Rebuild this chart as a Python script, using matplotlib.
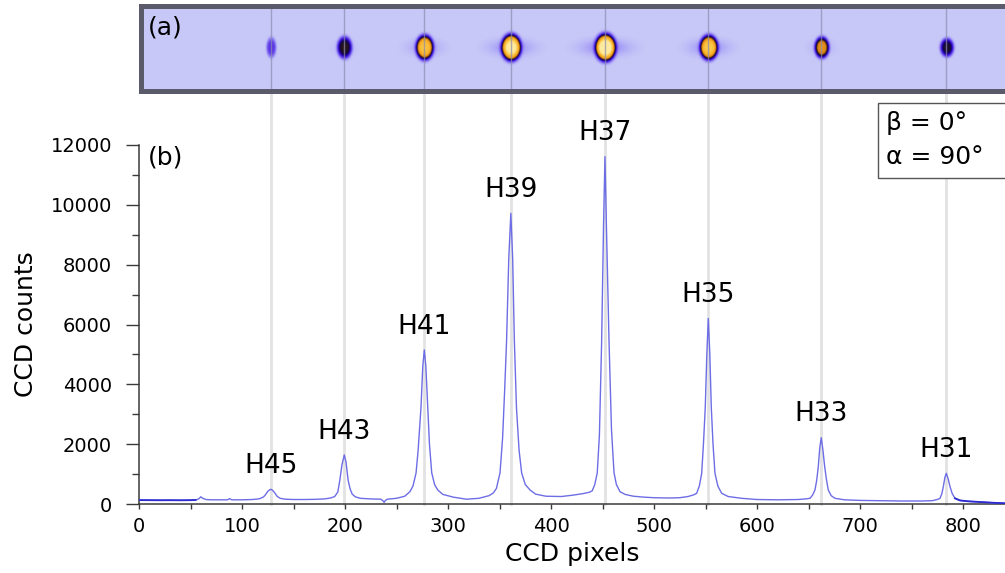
import numpy as np
import matplotlib
matplotlib.use("Agg")
import matplotlib.pyplot as plt
from matplotlib.colors import LinearSegmentedColormap
from matplotlib.patches import Rectangle

# ---------------- data ----------------
pixels = [0, 10, 20, 30, 40, 50, 55, 58, 60, 62, 65, 70, 80, 86, 88, 90, 100, 110, 116,
          118, 121, 123, 125, 127, 128.2, 130, 132, 134, 137, 142, 150,
          160, 170, 180, 186, 190, 193, 195, 197, 199.3, 201, 203, 205, 207, 210, 215,
          225, 235, 237, 238, 239, 241, 250, 258, 263, 266, 269, 271, 273.8, 275.5, 277,
          278.5, 280.3, 282, 284.2, 287, 290, 295, 305, 318, 330, 340, 344, 347, 350.5,
          353, 355, 356.9, 359, 361, 362.8, 364.4, 366.5, 369, 371.5, 375, 379.6, 385,
          395, 410, 420, 430, 437, 440, 442.5, 444.9, 447, 449.2, 451, 452.4, 453.8,
          456.3, 458.7, 461.2, 463.5, 467, 472, 480, 490, 500, 515, 525, 533, 538,
          541.4, 544, 546.3, 548, 549.8, 551.3, 552.7, 554.2, 555.6, 557.3, 559.2, 562,
          565.7, 572, 585, 600, 620, 640, 647, 651.5, 654, 656.3, 658, 659.5, 661,
          662.4, 664, 665.7, 667.5, 669.2, 672, 675.7, 685, 700, 718, 740, 760, 770,
          775, 777.7, 779.5, 780.9, 782.5, 783.8, 785.5, 787.4, 789.5, 792.2, 797, 805,
          815, 830, 841]
counts = [130, 128, 125, 127, 124, 128, 135, 170, 240, 190, 150, 140, 138, 140, 180, 140, 140, 150, 170,
          190, 240, 320, 420, 480, 490, 450, 360, 260, 190, 160, 150,
          150, 155, 170, 200, 250, 400, 800, 1300, 1640, 1400, 800, 500, 330, 240, 190,
          170, 160, 100, 55, 110, 160, 190, 260, 410, 600, 1040, 1800, 3240, 4600, 5150,
          4600, 3240, 2000, 1040, 650, 470, 320, 230, 160, 190, 280, 370, 520, 1040,
          2200, 3800, 5480, 8200, 9715, 8200, 5480, 3200, 1800, 1040, 650, 470, 330,
          260, 250, 290, 340, 390, 440, 650, 1040, 2300, 5480, 9300, 11610, 9300,
          5480, 2500, 1040, 650, 410, 320, 260, 230, 210, 200, 210, 250, 300,
          357, 600, 1025, 2000, 3250, 5000, 6200, 5000, 3250, 2000, 1025, 600,
          357, 250, 190, 150, 140, 150, 170, 190, 300, 470, 800, 1250, 1900,
          2216, 1800, 1250, 800, 470, 280, 190, 140, 120, 110, 100, 100, 110,
          150, 190, 350, 580, 900, 1025, 850, 580, 350, 190, 120, 90,
          70, 40, 25]

harmonics = ["H45", "H43", "H41", "H39", "H37", "H35", "H33", "H31"]
peak_pixels = [128.2, 199.3, 277, 361, 452.4, 552.7, 662.4, 783.8]
peak_counts = [490, 1640, 5150, 9715, 11610, 6200, 2216, 1025]

# CCD image spots (panel a): relative brightness and sizes
spot_amp = [0.20, 0.45, 0.80, 0.95, 1.00, 0.82, 0.62, 0.43]
spot_wx = [4.6, 6.8, 8.0, 9.0, 9.4, 8.2, 6.6, 6.2]
spot_wy = [0.115, 0.125, 0.14, 0.15, 0.155, 0.14, 0.12, 0.105]
halo_amp = [0.0, 0.02, 0.05, 0.07, 0.08, 0.07, 0.03, 0.01]
halo_wx = [10, 12, 16, 20, 22, 18, 12, 10]

# ---------------- figure ----------------
W, H = 1005, 573
fig = plt.figure(figsize=(W / 100, H / 100), dpi=100)

def px2data(p):
    return (p - 139) / 1.03

ax = fig.add_axes([139 / W, (H - 504) / H, (W - 139) / W, 359 / H])
ax.set_xlim(0, px2data(W))
ax.set_ylim(0, 12000)

x = np.array(pixels, dtype=float)
y = np.array(counts, dtype=float)

# guide lines
for p in peak_pixels:
    ax.axvline(p, ymin=0, ymax=(504 - 90) / 359, color="#e2e2e2", lw=2.0,
               clip_on=False, zorder=0)

ax.plot(x, y, color="#6d6de6", lw=1.0, zorder=3)
m1 = x <= 55
m2 = x >= 790
ax.plot(x[m1], y[m1], color="#2b2bd0", lw=1.3, zorder=4)
ax.plot(x[m2], y[m2], color="#2b2bd0", lw=1.3, zorder=4)

for name, p, c in zip(harmonics, peak_pixels, peak_counts):
    ax.annotate(name, (p, c), xytext=(0, 7.5), textcoords="offset points",
                ha="center", va="bottom", fontsize=19, annotation_clip=False)

ax.spines["top"].set_visible(False)
ax.spines["right"].set_visible(False)
for s in ("left", "bottom"):
    ax.spines[s].set_color("#3a3a3a")
    ax.spines[s].set_linewidth(1.1)

ax.set_xticks(np.arange(0, 801, 100))
ax.set_xticks(np.arange(50, 841, 100), minor=True)
ax.set_yticks(np.arange(0, 12001, 2000))
ax.set_yticks(np.arange(1000, 12000, 2000), minor=True)
ax.tick_params(axis="x", which="both", direction="out", length=3.6, width=1.0,
               color="#3a3a3a", labelsize=14, pad=6)
ax.tick_params(axis="y", which="major", direction="out", length=9.4, width=1.0,
               color="#3a3a3a", labelsize=14, pad=10)
ax.tick_params(axis="y", which="minor", direction="out", length=5, width=1.0,
               color="#3a3a3a")
ax.set_xlabel("CCD pixels", fontsize=18, labelpad=4)
ax.set_ylabel("CCD counts", fontsize=18, labelpad=9)

# ---------------- panel (a): CCD image ----------------
left_px, right_px = 141, 1010
axi = fig.add_axes([left_px / W, (H - 90.5) / H, (right_px - left_px) / W, 85 / H])
x0, x1 = px2data(left_px), px2data(right_px)
xs = np.linspace(x0, x1, 1800)
ys = np.linspace(0, 1, 120)
XX, YY = np.meshgrid(xs, ys)
img = np.zeros_like(XX)
for p, a, wx, wy, ha, hx in zip(peak_pixels, spot_amp, spot_wx, spot_wy, halo_amp, halo_wx):
    r2 = ((XX - p) / wx) ** 2 + ((YY - 0.5) / wy) ** 2
    img += a * np.exp(-(r2 ** 2.2))
    img += ha * np.exp(-((XX - p) / hx) ** 2 - ((YY - 0.5) / 0.09) ** 2)
img = np.clip(img, 0, 1)

cmap = LinearSegmentedColormap.from_list("ccd", [
    (0.00, (200 / 255, 200 / 255, 248 / 255)),
    (0.06, (160 / 255, 150 / 255, 246 / 255)),
    (0.18, (95 / 255, 60 / 255, 232 / 255)),
    (0.30, (45 / 255, 5 / 255, 200 / 255)),
    (0.40, (15 / 255, 5 / 255, 70 / 255)),
    (0.48, (45 / 255, 25 / 255, 20 / 255)),
    (0.56, (200 / 255, 115 / 255, 20 / 255)),
    (0.70, (245 / 255, 165 / 255, 30 / 255)),
    (0.88, (250 / 255, 200 / 255, 70 / 255)),
    (1.00, (255 / 255, 235 / 255, 160 / 255)),
])
axi.imshow(img, cmap=cmap, vmin=0, vmax=1, extent=[x0, x1, 0, 1], aspect="auto",
           origin="lower", interpolation="bilinear")
for p in peak_pixels:
    axi.axvline(p, color="#8c8cb0", lw=1.0, alpha=0.7)
axi.set_xlim(x0, x1)
axi.set_ylim(0, 1)
axi.set_xticks([])
axi.set_yticks([])
for s in axi.spines.values():
    s.set_color("#5a5a6a")
    s.set_linewidth(3.6)

# ---------------- labels and info box ----------------
fig.text(148 / W, (H - 27) / H, "(a)", fontsize=18, ha="left", va="center")
fig.text(148 / W, (H - 157) / H, "(b)", fontsize=18, ha="left", va="center")

box = Rectangle((878 / W, (H - 178) / H), (1015 - 878) / W, 75 / H,
                transform=fig.transFigure, facecolor="white", edgecolor="#555555",
                lw=1.0, zorder=5)
fig.add_artist(box)
fig.text(886 / W, (H - 123) / H, "β = 0°", fontsize=18, ha="left", va="center", zorder=6)
fig.text(886 / W, (H - 157) / H, "α = 90°", fontsize=18, ha="left", va="center", zorder=6)

fig.savefig("out.png", dpi=100)
